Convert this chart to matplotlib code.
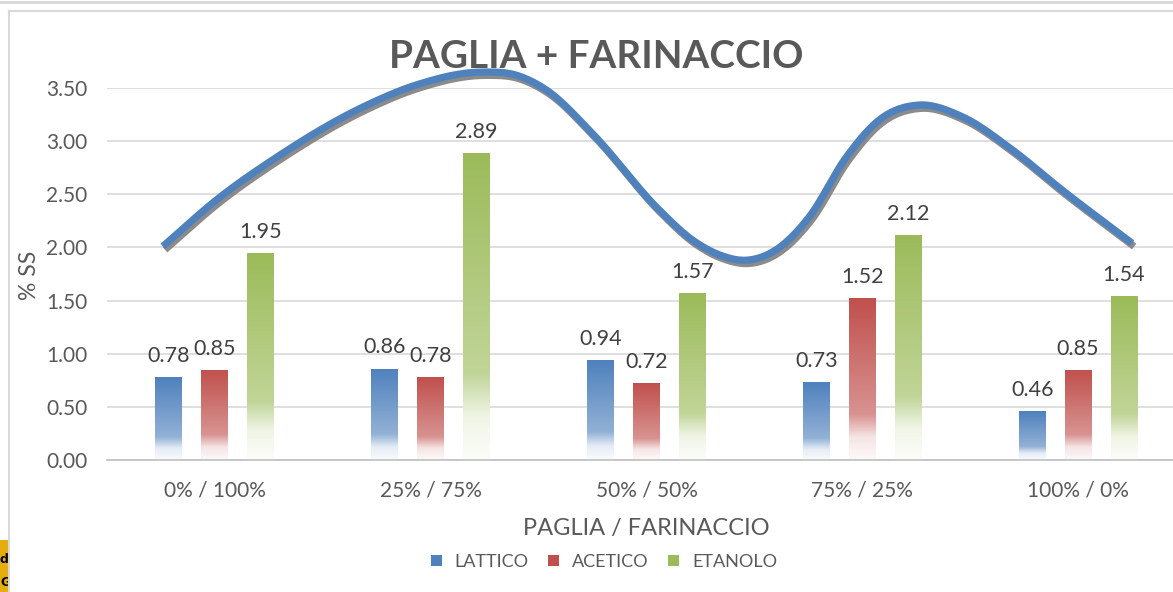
import numpy as np
import matplotlib
matplotlib.use("Agg")
import matplotlib.pyplot as plt
import matplotlib.patheffects as pe
from matplotlib.colors import to_rgb
from matplotlib.patches import Rectangle, Patch

plt.rcParams['font.family'] = ['Lato', 'DejaVu Sans']

categories = ["0% / 100%", "25% / 75%", "50% / 50%", "75% / 25%", "100% / 0%"]
lattico = [0.78, 0.86, 0.94, 0.73, 0.46]
acetico = [0.85, 0.78, 0.72, 1.52, 0.85]
etanolo = [1.95, 2.89, 1.57, 2.12, 1.54]
series_names = ["LATTICO", "ACETICO", "ETANOLO"]
series_colors = ["#4F81BD", "#C0504D", "#9BBB59"]

# freehand trend curve (category units, % SS)
curve_x = [-0.241, 0.009, 0.287, 0.685, 0.935, 1.241, 1.398, 1.537, 1.750,
           2.060, 2.213, 2.338, 2.463, 2.602, 2.755, 2.926, 3.079, 3.264,
           3.463, 3.694, 3.926, 4.250]
curve_y = [2.01, 2.45, 2.85, 3.32, 3.53, 3.65, 3.62, 3.48, 3.07,
           2.35, 2.07, 1.93, 1.88, 1.98, 2.29, 2.85, 3.20, 3.34,
           3.23, 2.92, 2.54, 2.04]

W, H = 1173, 592
fig = plt.figure(figsize=(W / 100, H / 100), dpi=100)
fig.patch.set_facecolor("white")

# frame lines
fig.add_artist(plt.Line2D([0, 1], [1 - 1.5 / H, 1 - 1.5 / H], color="#D9D9D9", lw=2.2))
fig.add_artist(plt.Line2D([9 / W, 9 / W], [0, 1 - 10.5 / H], color="#D9D9D9", lw=1.5))
fig.add_artist(plt.Line2D([9 / W, 1], [1 - 10.5 / H, 1 - 10.5 / H], color="#D9D9D9", lw=1.5))

# left-bottom yellow fragment
yax = fig.add_axes([0, 0, 7.5 / W, 52 / H])
yax.set_facecolor("#E5AE0E")
yax.set_xticks([]); yax.set_yticks([])
for s in yax.spines.values():
    s.set_visible(False)
yax.text(0.0, 0.62, "d", transform=yax.transAxes, fontsize=9, fontweight="bold",
         color="black", ha="left", va="center", clip_on=True, family="DejaVu Sans")
yax.text(0.0, 0.18, "Gi", transform=yax.transAxes, fontsize=9, fontweight="bold",
         color="black", ha="left", va="center", clip_on=True, family="DejaVu Sans")

ax = fig.add_axes([107 / W, (592 - 460) / H, (1186 - 107) / W, (460 - 88) / H])
ax.set_facecolor("none")
ax.set_xlim(-0.5, 4.5)
ax.set_ylim(0, 3.5)

for s in ["top", "right", "left"]:
    ax.spines[s].set_visible(False)
ax.spines["bottom"].set_color("#BFBFBF")
ax.spines["bottom"].set_linewidth(1.2)
ax.set_yticks(np.arange(0, 3.51, 0.5))
ax.set_yticklabels([f"{v:.2f}" for v in np.arange(0, 3.51, 0.5)])
ax.yaxis.grid(True, color="#D9D9D9", lw=1.2)
ax.set_axisbelow(True)
ax.tick_params(axis="y", length=0, pad=14, labelsize=15, labelcolor="#595959")
ax.set_xticks(range(len(categories)))
ax.set_xticklabels(categories)
ax.tick_params(axis="x", length=0, pad=15, labelsize=15, labelcolor="#595959")

bw = 0.125
offs = [-0.213, 0.0, 0.213]
N = 256

def gradient_img(color):
    c = np.array(to_rgb(color))
    t = np.linspace(0, 1, N)
    mix = np.interp(t, [0, 0.72, 0.86, 1.0], [0.0, 0.38, 0.85, 0.97])
    img = c[None, :] * (1 - mix[:, None]) + mix[:, None] * np.ones(3)[None, :]
    return img[:, None, :]

for vals, off, col in zip([lattico, acetico, etanolo], offs, series_colors):
    img = gradient_img(col)
    for i, v in enumerate(vals):
        x0 = i + off - bw / 2
        rect = Rectangle((x0, 0), bw, v, facecolor="none", edgecolor="none")
        ax.add_patch(rect)
        im = ax.imshow(img, extent=[x0, x0 + bw, 0, v], aspect="auto",
                       origin="upper", zorder=2, interpolation="bilinear")
        im.set_clip_path(rect)
        ax.annotate(f"{v:.2f}", (i + off, v), xytext=(0, 8), textcoords="offset points",
                    ha="center", va="bottom", fontsize=15.5, color="#404040", zorder=5)

# smooth curve through control points (cubic Hermite, three-point slopes)
cx = np.array(curve_x); cy = np.array(curve_y)
dx = np.diff(cx); sec = np.diff(cy) / dx
m = np.zeros_like(cy)
m[1:-1] = (dx[1:] * sec[:-1] + dx[:-1] * sec[1:]) / (dx[:-1] + dx[1:])
m[0] = sec[0]; m[-1] = sec[-1]
xs, ys = [], []
for k in range(len(cx) - 1):
    h = dx[k]
    t = np.linspace(0, 1, 30, endpoint=False)
    h00 = 2 * t**3 - 3 * t**2 + 1; h10 = t**3 - 2 * t**2 + t
    h01 = -2 * t**3 + 3 * t**2; h11 = t**3 - t**2
    xs.append(cx[k] + t * h)
    ys.append(h00 * cy[k] + h10 * h * m[k] + h01 * cy[k + 1] + h11 * h * m[k + 1])
xs.append([cx[-1]]); ys.append([cy[-1]])
xs = np.concatenate(xs); ys = np.concatenate(ys)
ax.plot(xs, ys, color="#4F81BD", lw=5.2, solid_capstyle="butt", zorder=6, clip_on=False,
        path_effects=[pe.SimpleLineShadow(offset=(1.5, -2.4), shadow_color="#7F7F7F", alpha=0.9),
                      pe.Normal()])

fig.text(596 / W, 1 - 56 / H, "PAGLIA + FARINACCIO", ha="center", va="center",
         fontsize=27.8, fontweight="bold", color="#595959")
fig.text(646 / W, 1 - 529 / H, "PAGLIA / FARINACCIO", ha="center", va="center",
         fontsize=17, color="#595959")
fig.text(29 / W, 1 - 275 / H, "% SS", ha="center", va="center", rotation=90,
         fontsize=16.5, color="#595959")

handles = [Patch(facecolor=c, edgecolor="none") for c in series_colors]
fig.legend(handles, series_names, loc="center", bbox_to_anchor=(604 / W, 1 - 562 / H),
           ncol=3, frameon=False, fontsize=13, labelcolor="#595959",
           handlelength=0.6, handleheight=0.6, handletextpad=0.7, columnspacing=1.1)

fig.savefig("out.png", dpi=100, facecolor="white")
